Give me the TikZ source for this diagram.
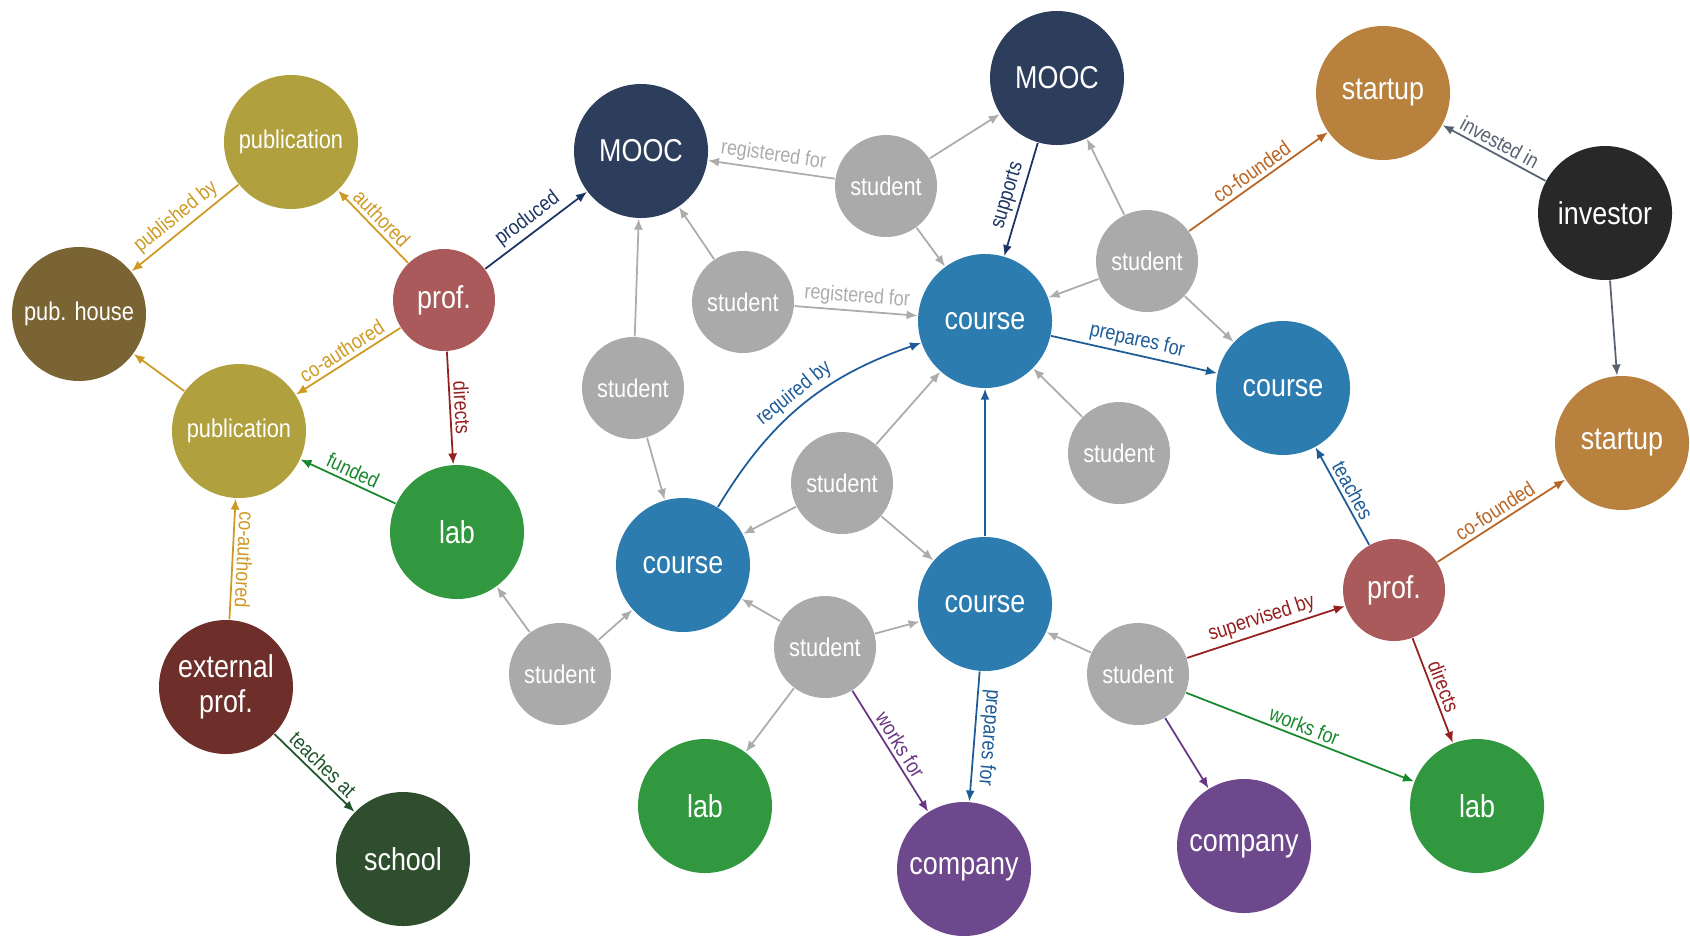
\documentclass[tikz,border=0pt]{standalone}
\usepackage{fontspec}
\setmainfont{Liberation Sans}[FakeStretch=0.85]
\usepackage{tikz}
\usetikzlibrary{arrows.meta}

\definecolor{pubfill}{RGB}{176,160,62}
\definecolor{housefill}{RGB}{122,100,52}
\definecolor{proffill}{RGB}{170,90,90}
\definecolor{extfill}{RGB}{110,46,42}
\definecolor{labfill}{RGB}{50,152,64}
\definecolor{schoolfill}{RGB}{46,78,46}
\definecolor{moocfill}{RGB}{44,62,92}
\definecolor{coursefill}{RGB}{44,124,176}
\definecolor{studentfill}{RGB}{170,170,170}
\definecolor{startupfill}{RGB}{184,130,62}
\definecolor{investorfill}{RGB}{40,40,40}
\definecolor{companyfill}{RGB}{110,72,140}

\definecolor{goldline}{RGB}{206,154,36}
\definecolor{navyline}{RGB}{28,52,100}
\definecolor{blueline}{RGB}{30,92,152}
\definecolor{redline}{RGB}{150,30,30}
\definecolor{greenline}{RGB}{24,136,44}
\definecolor{darkgreenline}{RGB}{30,84,40}
\definecolor{grayline}{RGB}{172,172,172}
\definecolor{brownline}{RGB}{184,100,36}
\definecolor{slateline}{RGB}{88,98,114}
\definecolor{purpleline}{RGB}{104,54,132}

\tikzset{
  entity/.style={circle, text=white, inner sep=0pt, minimum size=1.34cm, align=center,
    font=\fontsize{9}{10}\selectfont},
  smallentity/.style={entity, minimum size=1.02cm},
  smalltext/.style={font=\fontsize{7.3}{8}\selectfont},
  rel/.style={line width=0.5pt, -{Latex[length=1.1mm,width=0.9mm]}},
  revrel/.style={line width=0.5pt, {Latex[length=1.1mm,width=0.9mm]}-},
  lbl/.style={sloped, above, inner sep=1pt, font=\fontsize{6}{7}\selectfont}
}

\begin{document}
\begin{tikzpicture}
  \useasboundingbox (0, 0) rectangle (16.9, -9.35);

  % left: publications
  \node[entity, smalltext, fill=pubfill] (pubT) at (2.91, -1.42) {publication};
  \node[entity, smalltext, fill=housefill] (house) at (0.79, -3.14) {pub. house};
  \node[smallentity, fill=proffill] (profL) at (4.44, -3.00) {prof.};
  \node[entity, smalltext, fill=pubfill] (pubL) at (2.39, -4.31) {publication};
  \node[entity, fill=labfill] (labL) at (4.57, -5.32) {lab};
  \node[entity, fill=extfill] (extprof) at (2.26, -6.87) {external\\prof.};
  \node[entity, fill=schoolfill] (school) at (4.03, -8.59) {school};

  % middle: moocs, courses, students
  \node[entity, fill=moocfill] (moocL) at (6.41, -1.51) {MOOC};
  \node[smallentity, smalltext, fill=studentfill] (stuA) at (8.86, -1.86) {student};
  \node[entity, fill=moocfill] (moocT) at (10.57, -0.78) {MOOC};
  \node[smallentity, smalltext, fill=studentfill] (stuB) at (7.43, -3.02) {student};
  \node[smallentity, smalltext, fill=studentfill] (stuC) at (6.33, -3.88) {student};
  \node[entity, fill=coursefill] (courseM) at (9.85, -3.21) {course};
  \node[smallentity, smalltext, fill=studentfill] (stuD) at (11.47, -2.61) {student};
  \node[entity, fill=coursefill] (courseR) at (12.83, -3.88) {course};
  \node[smallentity, smalltext, fill=studentfill] (stuE) at (11.19, -4.53) {student};
  \node[entity, fill=coursefill] (courseL) at (6.83, -5.65) {course};
  \node[smallentity, smalltext, fill=studentfill] (stuF) at (8.42, -4.83) {student};
  \node[entity, fill=coursefill] (courseB) at (9.85, -6.04) {course};
  \node[smallentity, smalltext, fill=studentfill] (stuG) at (5.60, -6.74) {student};
  \node[smallentity, smalltext, fill=studentfill] (stuH) at (8.25, -6.47) {student};
  \node[entity, fill=labfill] (labB) at (7.05, -8.06) {lab};
  \node[entity, fill=companyfill] (compB) at (9.64, -8.69) {company};
  \node[smallentity, smalltext, fill=studentfill] (stuI) at (11.38, -6.74) {student};

  % right: startups
  \node[entity, fill=startupfill] (startT) at (13.83, -0.93) {startup};
  \node[entity, fill=investorfill] (investor) at (16.05, -2.13) {investor};
  \node[entity, fill=startupfill] (startR) at (16.22, -4.43) {startup};
  \node[smallentity, fill=proffill] (profR) at (13.94, -5.90) {prof.};
  \node[entity, fill=companyfill] (compR) at (12.44, -8.46) {company};
  \node[entity, fill=labfill] (labR) at (14.77, -8.06) {lab};

  \draw[rel, goldline] (pubT) -- node[lbl] {published by} (house);
  \draw[rel, goldline] (profL) -- node[lbl] {authored} (pubT);
  \draw[rel, goldline] (profL) -- node[lbl] {co-authored} (pubL);
  \draw[rel, goldline] (pubL) -- (house);
  \draw[rel, navyline] (profL) -- node[lbl] {produced} (moocL);
  \draw[rel, redline] (profL) -- node[lbl] {directs} (labL);
  \draw[rel, greenline] (labL) -- node[lbl] {funded} (pubL);
  \draw[revrel, goldline] (pubL) -- node[lbl, allow upside down] {co-authored} (extprof);
  \draw[rel, darkgreenline] (extprof) -- node[lbl] {teaches at} (school);

  \draw[rel, grayline] (stuG) -- (labL);
  \draw[rel, grayline] (stuG) -- (courseL);
  \draw[rel, grayline] (stuC) -- (moocL);
  \draw[rel, grayline] (stuC) -- (courseL);
  \draw[rel, grayline] (stuB) -- (moocL);
  \draw[rel, grayline] (stuB) -- node[lbl] {registered for} (courseM);
  \draw[rel, grayline] (stuA) -- node[lbl] {registered for} (moocL);
  \draw[rel, grayline] (stuA) -- (moocT);
  \draw[rel, grayline] (stuA) -- (courseM);
  \draw[rel, navyline] (moocT) -- node[lbl] {supports} (courseM);
  \draw[rel, grayline] (stuD) -- (moocT);
  \draw[rel, grayline] (stuD) -- (courseM);
  \draw[rel, grayline] (stuD) -- (courseR);
  \draw[rel, grayline] (stuE) -- (courseM);
  \draw[rel, blueline] (courseM) -- node[lbl] {prepares for} (courseR);
  \draw[rel, blueline] (courseL) to[bend left=20] node[lbl] {required by} (courseM);
  \draw[rel, grayline] (stuF) -- (courseM);
  \draw[rel, grayline] (stuF) -- (courseL);
  \draw[rel, grayline] (stuF) -- (courseB);
  \draw[rel, blueline] (courseB) -- (courseM);
  \draw[rel, blueline] (courseB) -- node[lbl, allow upside down] {prepares for} (compB);
  \draw[rel, grayline] (stuH) -- (courseL);
  \draw[rel, grayline] (stuH) -- (courseB);
  \draw[rel, grayline] (stuH) -- (labB);
  \draw[rel, purpleline] (stuH) -- node[lbl] {works for} (compB);

  \draw[rel, brownline] (stuD) -- node[lbl] {co-founded} (startT);
  \draw[rel, slateline] (investor) -- node[lbl] {invested in} (startT);
  \draw[rel, slateline] (investor) -- (startR);
  \draw[rel, blueline] (profR) -- node[lbl] {teaches} (courseR);
  \draw[rel, brownline] (profR) -- node[lbl] {co-founded} (startR);
  \draw[rel, redline] (profR) -- node[lbl] {directs} (labR);
  \draw[rel, redline] (stuI) -- node[lbl] {supervised by} (profR);
  \draw[rel, greenline] (stuI) -- node[lbl] {works for} (labR);
  \draw[rel, purpleline] (stuI) -- (compR);
  \draw[rel, grayline] (stuI) -- (courseB);
\end{tikzpicture}
\end{document}
